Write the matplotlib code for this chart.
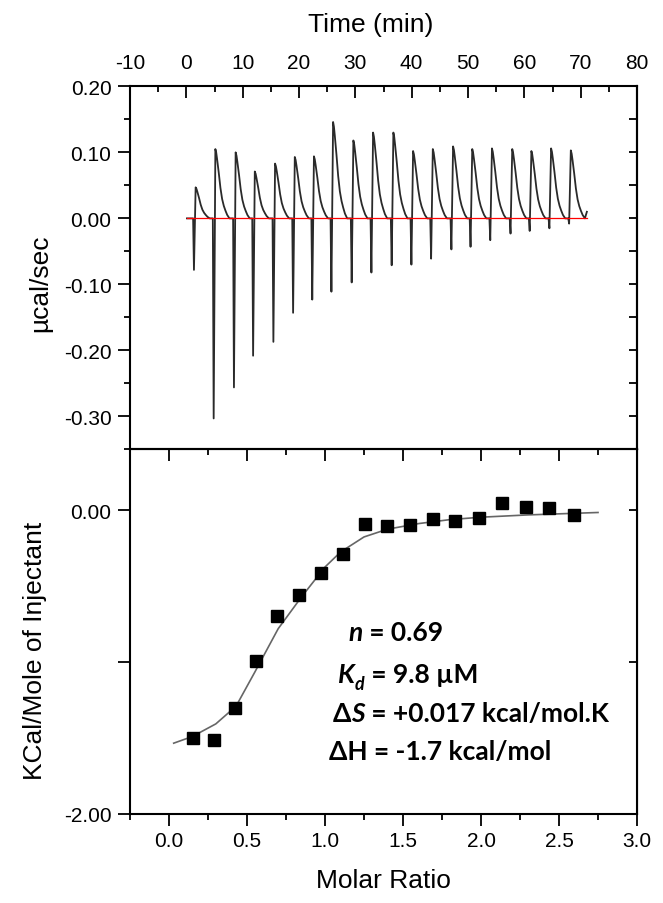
import numpy as np
import matplotlib
matplotlib.use("Agg")
import matplotlib.pyplot as plt
from matplotlib.ticker import MultipleLocator, FormatStrFormatter, FixedLocator, FixedFormatter

plt.rcParams['font.family'] = ['Liberation Sans', 'DejaVu Sans']
plt.rcParams['axes.unicode_minus'] = False

# --- raw thermogram (top panel) ---
inj_time = [1.2, 4.7, 8.3, 11.7, 15.3, 18.8, 22.2, 25.6, 29.2, 32.7, 36.3,
            39.8, 43.3, 46.9, 50.3, 53.8, 57.4, 60.8, 64.3, 67.8]
spike_min = [-0.078, -0.303, -0.256, -0.208, -0.187, -0.143, -0.123, -0.111, -0.097, -0.082, -0.071,
             -0.070, -0.061, -0.047, -0.043, -0.033, -0.023, -0.019, -0.015, -0.008]
peak_max = [0.047, 0.105, 0.100, 0.071, 0.083, 0.093, 0.094, 0.146, 0.118, 0.130, 0.130,
            0.102, 0.105, 0.109, 0.105, 0.106, 0.105, 0.102, 0.106, 0.103]
# shape of the decay after each peak (min after peak, fraction of peak height)
decay_dt = [0.0, 0.15, 0.3, 0.6, 0.9, 1.2, 1.5, 1.8, 2.1, 2.5]
decay_frac = [1.0, 0.95, 0.86, 0.66, 0.44, 0.28, 0.18, 0.11, 0.05, 0.0]
trace_start = 0.1
trace_end = 71.1
trace_end_val = 0.01

# --- integrated heats (bottom panel) ---
molar_ratio = [0.156, 0.287, 0.420, 0.558, 0.691, 0.831, 0.976, 1.116, 1.255,
               1.397, 1.542, 1.691, 1.836, 1.985, 2.137, 2.286, 2.437, 2.594]
heat = [-1.501, -1.514, -1.303, -0.993, -0.699, -0.560, -0.411, -0.288, -0.092,
        -0.103, -0.099, -0.055, -0.068, -0.048, 0.046, 0.022, 0.015, -0.029]
fit_x = [0.03, 0.15, 0.3, 0.43, 0.55, 0.7, 0.85, 1.0, 1.1, 1.25, 1.4, 1.6, 1.8, 2.0, 2.3, 2.75]
fit_y = [-1.534, -1.49, -1.407, -1.29, -1.066, -0.78, -0.57, -0.374, -0.275, -0.176,
         -0.125, -0.088, -0.062, -0.046, -0.031, -0.015]

# build the trace polyline from the per-injection values
t_raw, p_raw = [trace_start], [0.0]
for i, t0 in enumerate(inj_time):
    t_raw += [t0, t0 + 0.15]
    p_raw += [0.0, spike_min[i]]
    for dt, f in zip(decay_dt, decay_frac):
        t_raw.append(t0 + 0.45 + dt)
        p_raw.append(peak_max[i] * f)
t_raw.append(trace_end)
p_raw.append(trace_end_val)

fig = plt.figure(figsize=(6.63, 9.04), dpi=100)
left, width = 0.1961, 0.7647
ax1 = fig.add_axes([left, 0.5017, width, 0.4017])
ax2 = fig.add_axes([left, 0.0985, width, 0.4032])

tick_fs = 15
label_fs = 19

for ax in (ax1, ax2):
    for sp in ax.spines.values():
        sp.set_linewidth(1.5)
    ax.tick_params(which='major', length=8.4, width=1.3, labelsize=tick_fs)
    ax.tick_params(which='minor', length=4.3, width=1.3)

# ---- top panel ----
ax1.plot(t_raw, p_raw, color='#2a2a2a', lw=1.3)
ax1.plot([trace_start, trace_end], [0, 0], color='red', lw=0.9)
ax1.set_xlim(-10, 80)
ax1.set_ylim(-0.35, 0.20)
ax1.xaxis.tick_top()
ax1.xaxis.set_label_position('top')
ax1.xaxis.set_major_locator(MultipleLocator(10))
ax1.xaxis.set_minor_locator(MultipleLocator(5))
ax1.tick_params(axis='x', which='both', direction='in', top=True, bottom=False,
                labeltop=True, labelbottom=False, pad=10)
ax1.yaxis.set_major_locator(MultipleLocator(0.1))
ax1.yaxis.set_minor_locator(MultipleLocator(0.05))
ax1.yaxis.set_major_formatter(FormatStrFormatter('%.2f'))
ax1.tick_params(axis='y', which='both', direction='out', left=True, right=False, pad=5)
sec1 = ax1.secondary_yaxis('right')
sec1.yaxis.set_major_locator(MultipleLocator(0.1))
sec1.yaxis.set_minor_locator(MultipleLocator(0.05))
sec1.tick_params(which='both', direction='in', labelright=False, width=1.3)
sec1.tick_params(which='major', length=6)
sec1.tick_params(which='minor', length=6)
sec1.spines['right'].set_linewidth(1.5)
ax1.set_xlabel('Time (min)', fontsize=label_fs)
ax1.set_ylabel('µcal/sec', fontsize=label_fs)
ax1.xaxis.set_label_coords(0.475, 1.152)
ax1.yaxis.set_label_coords(-0.154, 0.46)

# ---- bottom panel ----
ax2.plot(fit_x, fit_y, color='#666666', lw=1.2)
ax2.plot(molar_ratio, heat, 's', color='black', markersize=8)
ax2.set_xlim(-0.25, 3.0)
ax2.set_ylim(-2.0, 0.4)
ax2.xaxis.set_major_locator(MultipleLocator(0.5))
ax2.xaxis.set_minor_locator(MultipleLocator(0.25))
ax2.xaxis.set_major_formatter(FormatStrFormatter('%.1f'))
ax2.tick_params(axis='x', which='both', direction='out', top=False, pad=4)
ax2.yaxis.set_major_locator(FixedLocator([0.0, -1.0, -2.0]))
ax2.yaxis.set_major_formatter(FixedFormatter(['0.00', '', '-2.00']))
ax2.tick_params(axis='y', which='both', direction='out', right=False, pad=5)
sec2x = ax2.secondary_xaxis('top')
sec2x.xaxis.set_major_locator(MultipleLocator(0.5))
sec2x.xaxis.set_minor_locator(MultipleLocator(0.25))
sec2x.tick_params(which='both', direction='in', labeltop=False, width=1.3)
sec2x.tick_params(which='major', length=8.4)
sec2x.tick_params(which='minor', length=4.3)
sec2y = ax2.secondary_yaxis('right')
sec2y.yaxis.set_major_locator(FixedLocator([0.0, -1.0, -2.0]))
sec2y.tick_params(which='both', direction='in', labelright=False, width=1.3, length=6)
ax2.set_xlabel('Molar Ratio', fontsize=label_fs)
ax2.set_ylabel('KCal/Mole of Injectant', fontsize=label_fs)
ax2.xaxis.set_label_coords(0.5, -0.148)
ax2.yaxis.set_label_coords(-0.164, 0.45)

# ---- fit parameters ----
ann_fs = 19
ann_family = ['Lato', 'Noto Sans', 'DejaVu Sans']


def put_line(x, y, parts):
    # parts: (text, italic, subscript)
    base = None
    prev = None
    for s, italic, sub in parts:
        kw = dict(fontsize=ann_fs * (0.68 if sub else 1.0), fontweight='bold',
                  fontstyle='italic' if italic else 'normal', family=ann_family, ha='left')
        if prev is None:
            prev = ax2.text(x, y, s, va='baseline', **kw)
            base = prev
        elif sub:
            prev = ax2.annotate(s, xy=(1, 0), xycoords=(prev, base), xytext=(0, -4),
                                textcoords='offset points', va='bottom', **kw)
        else:
            prev = ax2.annotate(s, xy=(1, 0), xycoords=(prev, base), va='bottom', **kw)


put_line(1.152, -0.856, [('n', True, False), (' = 0.69', False, False)])
put_line(1.084, -1.131, [('K', True, False), ('d', True, True), (' = 9.8 µM', False, False)])
put_line(1.049, -1.391, [('Δ', False, False), ('S', True, False), (' = +0.017 kcal/mol.K', False, False)])
put_line(1.026, -1.637, [('ΔH = -1.7 kcal/mol', False, False)])

fig.savefig('out.png', dpi=100)
